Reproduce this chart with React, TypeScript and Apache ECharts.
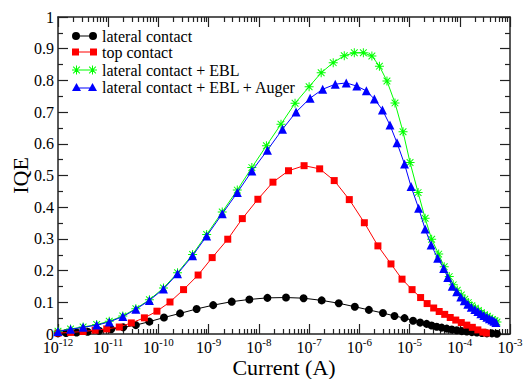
import React, { useEffect, useRef } from "react";
import * as echarts from "echarts";

const FONT = "Liberation Serif, Times New Roman, serif";

// log10 of the injection current (A) and the matching IQE for each device
const lateralLogI = [-12.0, -11.84, -11.63, -11.41, -11.18, -10.94, -10.7, -10.45, -10.18, -9.89, -9.57, -9.24, -8.91, -8.54, -8.19, -7.83, -7.46, -7.11, -6.75, -6.41, -6.09, -5.81, -5.53, -5.3, -5.1, -4.93, -4.79, -4.66, -4.56, -4.46, -4.36, -4.26, -4.16, -4.06, -3.96, -3.86, -3.76, -3.66, -3.56, -3.46, -3.36, -3.26];
const lateralIqe = [0.002, 0.003, 0.005, 0.007, 0.01, 0.015, 0.021, 0.028, 0.039, 0.052, 0.065, 0.079, 0.091, 0.102, 0.109, 0.114, 0.115, 0.113, 0.106, 0.097, 0.086, 0.076, 0.066, 0.057, 0.05, 0.042, 0.036, 0.032, 0.027, 0.023, 0.02, 0.017, 0.014, 0.012, 0.009, 0.008, 0.006, 0.005, 0.003, 0.002, 0.002, 0.001];

const topLogI = [-12.0, -11.75, -11.5, -11.26, -11.03, -10.78, -10.54, -10.28, -10.03, -9.77, -9.5, -9.21, -8.93, -8.62, -8.33, -8.02, -7.72, -7.41, -7.1, -6.79, -6.5, -6.2, -5.9, -5.63, -5.37, -5.15, -4.95, -4.78, -4.65, -4.52, -4.41, -4.3, -4.19, -4.08, -3.97, -3.86, -3.75, -3.64, -3.54, -3.47];
const topIqe = [0.003, 0.005, 0.008, 0.012, 0.016, 0.022, 0.035, 0.051, 0.072, 0.101, 0.14, 0.186, 0.241, 0.299, 0.364, 0.425, 0.479, 0.515, 0.531, 0.521, 0.484, 0.424, 0.351, 0.278, 0.221, 0.173, 0.14, 0.115, 0.096, 0.082, 0.071, 0.062, 0.052, 0.044, 0.036, 0.028, 0.021, 0.013, 0.006, 0.003];

const eblLogI = [-12.0, -11.75, -11.5, -11.23, -10.98, -10.71, -10.45, -10.18, -9.9, -9.62, -9.32, -9.04, -8.73, -8.43, -8.14, -7.85, -7.56, -7.28, -7.0, -6.76, -6.52, -6.3, -6.1, -5.92, -5.75, -5.6, -5.45, -5.29, -5.13, -4.99, -4.83, -4.69, -4.56, -4.42, -4.31, -4.21, -4.13, -4.05, -3.97, -3.9, -3.83, -3.76, -3.69, -3.63, -3.57, -3.51, -3.45, -3.4, -3.35, -3.3, -3.26];
const eblIqe = [0.009, 0.016, 0.022, 0.03, 0.04, 0.057, 0.08, 0.108, 0.145, 0.193, 0.251, 0.314, 0.385, 0.454, 0.525, 0.594, 0.662, 0.728, 0.78, 0.824, 0.856, 0.878, 0.887, 0.887, 0.877, 0.845, 0.798, 0.729, 0.638, 0.541, 0.446, 0.365, 0.299, 0.252, 0.212, 0.181, 0.155, 0.138, 0.123, 0.11, 0.099, 0.089, 0.081, 0.074, 0.067, 0.061, 0.056, 0.051, 0.046, 0.042, 0.038];

const augerLogI = [-12.0, -11.75, -11.5, -11.23, -10.98, -10.71, -10.45, -10.18, -9.9, -9.62, -9.32, -9.04, -8.73, -8.43, -8.14, -7.83, -7.53, -7.26, -6.98, -6.73, -6.48, -6.26, -6.05, -5.86, -5.7, -5.54, -5.39, -5.25, -5.1, -4.97, -4.82, -4.69, -4.57, -4.44, -4.32, -4.24, -4.15, -4.06, -3.98, -3.91, -3.84, -3.77, -3.7, -3.64, -3.58, -3.52, -3.46, -3.41, -3.36, -3.32, -3.28];
const augerIqe = [0.008, 0.015, 0.021, 0.028, 0.038, 0.055, 0.078, 0.106, 0.142, 0.19, 0.247, 0.309, 0.379, 0.446, 0.514, 0.58, 0.646, 0.7, 0.744, 0.772, 0.788, 0.792, 0.782, 0.767, 0.741, 0.707, 0.659, 0.603, 0.536, 0.465, 0.397, 0.331, 0.281, 0.239, 0.207, 0.178, 0.151, 0.133, 0.117, 0.105, 0.094, 0.084, 0.077, 0.071, 0.064, 0.058, 0.053, 0.048, 0.044, 0.04, 0.036];

const seriesNames = [
  "lateral contact",
  "top contact",
  "lateral contact + EBL",
  "lateral contact + EBL + Auger",
];
const seriesColors = ["#000000", "#ff0000", "#00ff00", "#0000ff"];

// decade exponents for the current axis and the in-decade minor multipliers
const decadeExps = [-12, -11, -10, -9, -8, -7, -6, -5, -4, -3];
const minorMultipliers = [2, 3, 4, 5, 6, 7, 8, 9];

const majorTicks = decadeExps.map((e) => Math.pow(10, e));
const minorTicks: number[] = [];
decadeExps.slice(0, -1).forEach((e) => {
  minorMultipliers.forEach((m) => minorTicks.push(m * Math.pow(10, e)));
});

const toPairs = (logI: number[], iqe: number[]) =>
  logI.map((e, i) => [Math.pow(10, e), iqe[i]]);

// asterisk marker built from four thin bars, offset by dx
const asterisk = (dx: number) =>
  `M${dx + 0},4.0 L${dx + 9},4.0 L${dx + 9},5.0 L${dx + 0},5.0 Z ` +
  `M${dx + 4},0 L${dx + 5},0 L${dx + 5},9 L${dx + 4},9 Z ` +
  `M${dx + 0.8},1.5 L${dx + 1.5},0.8 L${dx + 8.2},7.5 L${dx + 7.5},8.2 Z ` +
  `M${dx + 7.5},0.8 L${dx + 8.2},1.5 L${dx + 1.5},8.2 L${dx + 0.8},7.5 Z`;

const starSymbol = "path://" + asterisk(0);

const legendIcons = [
  "path://M0,4 A4,4 0 1 1 8,4 A4,4 0 1 1 0,4 Z M17,4 A4,4 0 1 1 25,4 A4,4 0 1 1 17,4 Z M4,3.5 L21,3.5 L21,4.5 L4,4.5 Z",
  "path://M0,0 L7,0 L7,7 L0,7 Z M18,0 L25,0 L25,7 L18,7 Z M4,3 L21,3 L21,4 L4,4 Z",
  "path://" + asterisk(0) + " " + asterisk(16) + " M4.5,4 L20.5,4 L20.5,5 L4.5,5 Z",
  "path://M0,8 L4.5,0 L9,8 Z M16,8 L20.5,0 L25,8 Z M4.5,4.5 L20.5,4.5 L20.5,5.5 L4.5,5.5 Z",
];
const legendSizes = [
  [25, 8],
  [25, 7],
  [25, 9],
  [25, 8],
];
const legendCenters = [36, 52, 70, 87];

const AXIS_COLOR = "#222";

export default function App() {
  const ref = useRef<HTMLDivElement>(null);

  useEffect(() => {
    if (!ref.current) return;
    const chart = echarts.init(ref.current, null, { renderer: "svg" });

    const baseX = {
      type: "log" as const,
      logBase: 10,
      min: 1e-12,
      max: 1e-3,
      gridIndex: 0,
      splitLine: { show: false },
      minorTick: { show: false },
      minorSplitLine: { show: false },
    };

    const xAxes = [
      {
        ...baseX,
        position: "bottom",
        axisLine: { show: true, onZero: false, lineStyle: { color: AXIS_COLOR, width: 1.5 } },
        axisTick: { show: true, inside: true, length: 10, customValues: majorTicks, lineStyle: { color: AXIS_COLOR, width: 1.2 } },
        axisLabel: {
          show: true,
          customValues: majorTicks,
          margin: 2,
          formatter: (v: number) => `{b|10}{s|${Math.round(Math.log10(v))}}`,
          rich: {
            b: { fontFamily: FONT, fontSize: 16, color: "#000", lineHeight: 19, verticalAlign: "bottom" },
            s: { fontFamily: FONT, fontSize: 11, color: "#000", lineHeight: 13, verticalAlign: "top" },
          },
        },
        name: "Current (A)",
        nameLocation: "middle",
        nameGap: 22,
        nameMoveOverlap: false,
        nameTextStyle: { fontFamily: FONT, fontSize: 22, color: "#000", verticalAlign: "top" },
      },
      {
        ...baseX,
        position: "bottom",
        axisLine: { show: false, onZero: false },
        axisTick: { show: true, inside: true, length: 5, customValues: minorTicks, lineStyle: { color: AXIS_COLOR, width: 1.2 } },
        axisLabel: { show: false },
      },
      {
        ...baseX,
        position: "top",
        axisLine: { show: true, onZero: false, lineStyle: { color: AXIS_COLOR, width: 1.5 } },
        axisTick: { show: true, inside: true, length: 10, customValues: majorTicks, lineStyle: { color: AXIS_COLOR, width: 1.2 } },
        axisLabel: { show: false },
      },
      {
        ...baseX,
        position: "top",
        axisLine: { show: false, onZero: false },
        axisTick: { show: true, inside: true, length: 5, customValues: minorTicks, lineStyle: { color: AXIS_COLOR, width: 1.2 } },
        axisLabel: { show: false },
      },
    ];

    const baseY = {
      type: "value" as const,
      min: 0,
      max: 1,
      interval: 0.1,
      splitLine: { show: false },
      axisLine: { show: true, onZero: false, lineStyle: { color: AXIS_COLOR, width: 1.5 } },
      axisTick: { show: true, inside: true, length: 10, lineStyle: { color: AXIS_COLOR, width: 1.2 } },
      minorTick: { show: true, splitNumber: 2, length: 5, lineStyle: { color: AXIS_COLOR, width: 1.2 } },
    };

    const yAxes = [
      {
        ...baseY,
        position: "left",
        axisLabel: {
          show: true,
          margin: 4,
          fontFamily: FONT,
          fontSize: 16,
          color: "#000",
          formatter: (v: number) => (v === 0 ? "0" : v === 1 ? "1" : v.toFixed(1)),
        },
        name: "IQE",
        nameLocation: "middle",
        nameGap: 27,
        nameRotate: 90,
        nameMoveOverlap: false,
        nameTextStyle: { fontFamily: FONT, fontSize: 22, color: "#000" },
      },
      {
        ...baseY,
        position: "right",
        axisLabel: { show: false },
      },
    ];

    const symbols = ["circle", "rect", starSymbol, "triangle"];
    const symbolSizes = [8, 7, 9, 9];
    const datasets = [
      toPairs(lateralLogI, lateralIqe),
      toPairs(topLogI, topIqe),
      toPairs(eblLogI, eblIqe),
      toPairs(augerLogI, augerIqe),
    ];

    const series = datasets.map((data, i) => ({
      name: seriesNames[i],
      type: "line" as const,
      xAxisIndex: 0,
      yAxisIndex: 0,
      data,
      symbol: symbols[i],
      symbolSize: symbolSizes[i],
      showSymbol: true,
      showAllSymbol: true,
      color: seriesColors[i],
      itemStyle: { color: seriesColors[i], borderWidth: 0 },
      lineStyle: { color: seriesColors[i], width: 1 },
      z: 2 + i,
    }));

    const legends = seriesNames.map((name, i) => ({
      show: true,
      orient: "vertical",
      left: 72,
      top: legendCenters[i] - 8,
      padding: 0,
      itemGap: 0,
      itemWidth: legendSizes[i][0],
      itemHeight: legendSizes[i][1],
      selectedMode: false,
      data: [{ name, icon: legendIcons[i] }],
      textStyle: { fontFamily: FONT, fontSize: 16, color: "#000" },
    }));

    chart.setOption({
      animation: false,
      backgroundColor: "#ffffff",
      textStyle: { fontFamily: FONT },
      grid: {
        left: 58,
        right: 13,
        top: 17,
        bottom: 45,
        containLabel: false,
        outerBoundsMode: "none",
      },
      xAxis: xAxes,
      yAxis: yAxes,
      legend: legends,
      series,
    });

    return () => chart.dispose();
  }, []);

  return (
    <div
      ref={ref}
      style={{ position: "absolute", left: 0, top: 0, width: 523, height: 379 }}
    />
  );
}
